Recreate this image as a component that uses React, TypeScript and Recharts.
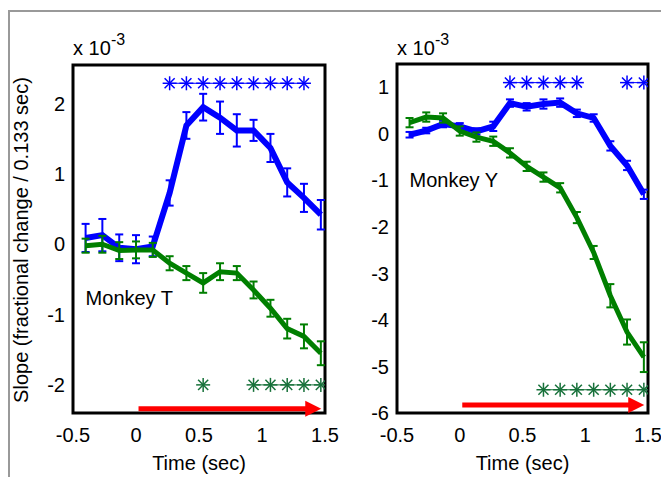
import {
  LineChart,
  Line,
  XAxis,
  YAxis,
  ErrorBar,
  ReferenceArea,
  ReferenceLine,
  ReferenceDot,
} from 'recharts';

const FONT = '"Liberation Sans", Arial, sans-serif';
const BLUE = '#0000ff';
const GREEN = '#007f00';
const STAR_GREEN = '#17713a';
const RED = '#ff0000';
const FS = 20;

// time of each bin (sec)
const times = [-0.4, -0.267, -0.133, 0, 0.133, 0.267, 0.4, 0.533, 0.667, 0.8, 0.933, 1.067, 1.2, 1.333, 1.467];
const xTicks = [-0.5, 0, 0.5, 1, 1.5];

// Monkey T (x 10^-3)
const tBlue = [0.09, 0.13, -0.05, -0.07, -0.03, 0.73, 1.69, 1.95, 1.8, 1.62, 1.62, 1.37, 0.88, 0.66, 0.42];
const tBlueErr = [0.2, 0.23, 0.19, 0.2, 0.14, 0.18, 0.19, 0.19, 0.23, 0.23, 0.15, 0.2, 0.2, 0.2, 0.21];
const tGreen = [-0.02, 0.0, -0.09, -0.08, -0.08, -0.27, -0.41, -0.55, -0.39, -0.41, -0.65, -0.91, -1.2, -1.31, -1.55];
const tGreenErr = [0.1, 0.12, 0.12, 0.12, 0.1, 0.1, 0.1, 0.14, 0.12, 0.1, 0.12, 0.12, 0.14, 0.17, 0.17];
const tBlueSig = [0, 0, 0, 0, 0, 1, 1, 1, 1, 1, 1, 1, 1, 1, 0];
const tGreenSig = [0, 0, 0, 0, 0, 0, 0, 1, 0, 0, 1, 1, 1, 1, 1];
const tYTicks = [-2, -1, 0, 1, 2];

// Monkey Y (x 10^-3)
const yBlue = [-0.02, 0.07, 0.21, 0.16, 0.05, 0.16, 0.66, 0.58, 0.64, 0.67, 0.44, 0.34, -0.26, -0.68, -1.3];
const yBlueErr = [0.06, 0.06, 0.07, 0.07, 0.07, 0.1, 0.08, 0.08, 0.1, 0.09, 0.08, 0.08, 0.1, 0.1, 0.1];
const yGreen = [0.24, 0.36, 0.34, 0.06, -0.07, -0.16, -0.41, -0.7, -0.93, -1.16, -1.8, -2.55, -3.48, -4.26, -4.8];
const yGreenErr = [0.1, 0.1, 0.1, 0.1, 0.1, 0.1, 0.1, 0.1, 0.1, 0.1, 0.12, 0.14, 0.25, 0.27, 0.32];
const yBlueSig = [0, 0, 0, 0, 0, 0, 1, 1, 1, 1, 1, 0, 0, 1, 1];
const yGreenSig = [0, 0, 0, 0, 0, 0, 0, 0, 1, 1, 1, 1, 1, 1, 1];
const yYTicks = [-6, -5, -4, -3, -2, -1, 0, 1];

const arrowStart = 0.02;
const arrowEnd = 1.36;
const arrowTip = 1.47;

const Asterisk = (props: any) => {
  const { cx, cy, stroke, index } = props;
  if (cx == null || cy == null || props.value == null) return <g key={index} />;
  const r = 7;
  const d = r * 0.72;
  return (
    <g key={index} stroke={stroke} strokeWidth={1.5}>
      <line x1={cx - r} y1={cy} x2={cx + r} y2={cy} />
      <line x1={cx} y1={cy - r} x2={cx} y2={cy + r} />
      <line x1={cx - d} y1={cy - d} x2={cx + d} y2={cy + d} />
      <line x1={cx - d} y1={cy + d} x2={cx + d} y2={cy - d} />
    </g>
  );
};

const ArrowHead = (props: any) => {
  const { cx, cy } = props;
  return <polygon points={`${cx},${cy} ${cx - 16},${cy - 8} ${cx - 16},${cy + 8}`} fill={RED} />;
};

type PanelProps = {
  width: number;
  yWidth: number;
  top: number;
  right: number;
  blue: number[];
  blueErr: number[];
  green: number[];
  greenErr: number[];
  blueSig: number[];
  greenSig: number[];
  blueStarY: number;
  greenStarY: number;
  arrowY: number;
  yDomain: [number, number];
  yTicks: number[];
  name: string;
  nameX: number;
  nameY: number;
};

function Panel(p: PanelProps) {
  const rows = times.map((t, i) => ({
    t,
    b: p.blue[i],
    bErr: p.blueErr[i],
    g: p.green[i],
    gErr: p.greenErr[i],
    bStar: p.blueSig[i] ? p.blueStarY : null,
    gStar: p.greenSig[i] ? p.greenStarY : null,
  }));
  const tick = { fill: '#000', fontSize: FS, fontFamily: FONT };
  return (
    <LineChart width={p.width} height={477} data={rows} margin={{ top: p.top, right: p.right, bottom: 0, left: 0 }}>
      <XAxis
        dataKey="t"
        type="number"
        domain={[-0.5, 1.5]}
        ticks={xTicks}
        interval={0}
        allowDataOverflow
        tickLine={false}
        axisLine={false}
        tickMargin={9}
        height={64}
        tick={tick}
        label={{ value: 'Time (sec)', position: 'insideBottom', offset: 7, fill: '#000', fontSize: FS, fontFamily: FONT }}
      />
      <YAxis
        type="number"
        domain={p.yDomain}
        ticks={p.yTicks}
        interval={0}
        allowDataOverflow
        tickLine={false}
        axisLine={false}
        width={p.yWidth}
        tick={tick}
      />
      <Line dataKey="b" stroke={BLUE} strokeWidth={6} dot={false} activeDot={false} isAnimationActive={false}>
        <ErrorBar dataKey="bErr" direction="y" width={4} strokeWidth={2} stroke={BLUE} isAnimationActive={false} />
      </Line>
      <Line dataKey="g" stroke={GREEN} strokeWidth={5} dot={false} activeDot={false} isAnimationActive={false}>
        <ErrorBar dataKey="gErr" direction="y" width={4} strokeWidth={2} stroke={GREEN} isAnimationActive={false} />
      </Line>
      <Line
        dataKey="bStar"
        stroke={BLUE}
        strokeWidth={1}
        connectNulls={false}
        dot={(d: any) => <Asterisk key={'b' + d.index} {...d} stroke={BLUE} />}
        activeDot={false}
        isAnimationActive={false}
      />
      <Line
        dataKey="gStar"
        stroke={STAR_GREEN}
        strokeWidth={1}
        connectNulls={false}
        dot={(d: any) => <Asterisk key={'g' + d.index} {...d} stroke={STAR_GREEN} />}
        activeDot={false}
        isAnimationActive={false}
      />
      <ReferenceLine
        segment={[
          { x: arrowStart, y: p.arrowY },
          { x: arrowEnd, y: p.arrowY },
        ]}
        stroke={RED}
        strokeWidth={5}
      />
      <ReferenceDot x={arrowTip} y={p.arrowY} r={8} shape={(d: any) => <ArrowHead {...d} />} />
      <ReferenceDot
        x={p.nameX}
        y={p.nameY}
        r={0}
        shape={(d: any) => (
          <text x={d.cx} y={d.cy} fill="#000" fontSize={FS} fontFamily={FONT}>
            {p.name}
          </text>
        )}
      />
      <ReferenceArea
        x1={-0.5}
        x2={1.5}
        y1={p.yDomain[0]}
        y2={p.yDomain[1]}
        fill="none"
        fillOpacity={0}
        stroke="#000"
        strokeWidth={3}
      />
    </LineChart>
  );
}

export default function App() {
  return (
    <div style={{ position: 'absolute', left: 0, top: 0, width: 661, height: 477, background: '#fff', fontFamily: FONT, overflow: 'hidden' }}>
      <div style={{ position: 'absolute', left: 8, top: 10, right: 0, bottom: 0, borderTop: '2px solid #999', borderLeft: '2px solid #999' }} />
      <div style={{ position: 'absolute', left: 0, top: 0 }}>
        <Panel
          width={340}
          yWidth={73}
          top={65}
          right={15}
          blue={tBlue}
          blueErr={tBlueErr}
          green={tGreen}
          greenErr={tGreenErr}
          blueSig={tBlueSig}
          greenSig={tGreenSig}
          blueStarY={2.29}
          greenStarY={-2.0}
          arrowY={-2.34}
          yDomain={[-2.4, 2.55]}
          yTicks={tYTicks}
          name="Monkey T"
          nameX={-0.4}
          nameY={-0.86}
        />
      </div>
      <div style={{ position: 'absolute', left: 340, top: 0 }}>
        <Panel
          width={321}
          yWidth={57}
          top={64}
          right={13}
          blue={yBlue}
          blueErr={yBlueErr}
          green={yGreen}
          greenErr={yGreenErr}
          blueSig={yBlueSig}
          greenSig={yGreenSig}
          blueStarY={1.1}
          greenStarY={-5.5}
          arrowY={-5.83}
          yDomain={[-6, 1.5]}
          yTicks={yYTicks}
          name="Monkey Y"
          nameX={-0.4}
          nameY={-1.15}
        />
      </div>
      <div style={{ position: 'absolute', left: 73, top: 38, fontSize: FS, lineHeight: '20px' }}>x 10</div>
      <div style={{ position: 'absolute', left: 111, top: 32, fontSize: 16, lineHeight: '16px' }}>-3</div>
      <div style={{ position: 'absolute', left: 397, top: 38, fontSize: FS, lineHeight: '20px' }}>x 10</div>
      <div style={{ position: 'absolute', left: 435, top: 32, fontSize: 16, lineHeight: '16px' }}>-3</div>
      <div
        style={{
          position: 'absolute',
          left: 21,
          top: 240,
          fontSize: FS,
          whiteSpace: 'nowrap',
          transform: 'translate(-50%, -50%) rotate(-90deg)',
        }}
      >
        Slope (fractional change / 0.133 sec)
      </div>
    </div>
  );
}
